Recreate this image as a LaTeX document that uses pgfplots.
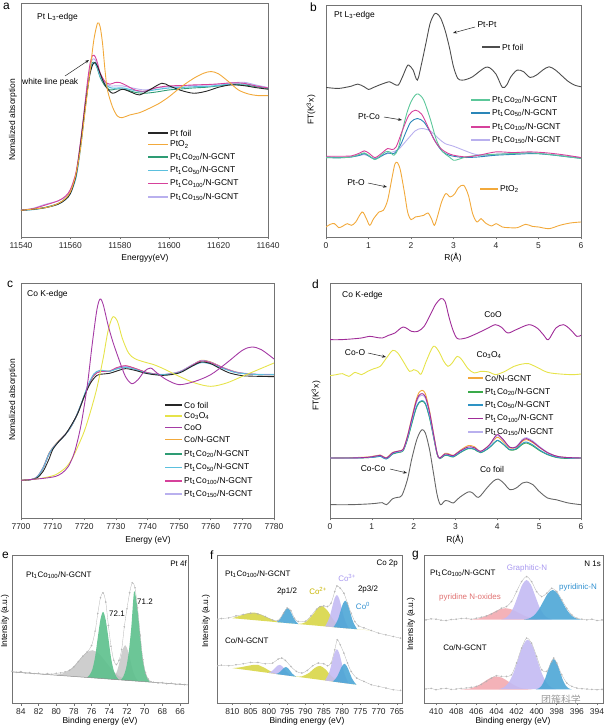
\documentclass[border=0pt]{standalone}
\usepackage{pgfplots}
\pgfplotsset{compat=1.18}
\usetikzlibrary{arrows.meta}
\usepackage{fontspec}
\setmainfont{Liberation Sans}
\newfontfamily\cjk{Noto Sans CJK SC}
\definecolor{cOr}{HTML}{F2A93B}
\definecolor{cGr}{HTML}{2E9C74}
\definecolor{cCy}{HTML}{5BC0DE}
\definecolor{cMa}{HTML}{D6419B}
\definecolor{cLa}{HTML}{B9B0EE}
\definecolor{bGr}{HTML}{5CC79A}
\definecolor{bBl}{HTML}{2A86B8}
\definecolor{bGy}{HTML}{4D4D4D}
\definecolor{cYe}{HTML}{E6E34A}
\definecolor{cPu}{HTML}{A53BA5}
\definecolor{dGr}{HTML}{3AAA4A}
\definecolor{dBl}{HTML}{2E93C4}
\definecolor{dPu}{HTML}{A02C98}
\definecolor{xGr}{HTML}{5CC08C}
\definecolor{xGy}{HTML}{BDBDBD}
\definecolor{xYe}{HTML}{D6D43C}
\definecolor{xBl}{HTML}{4DA6D6}
\definecolor{xLa}{HTML}{C3BAF3}
\definecolor{xPk}{HTML}{F2A5AC}
\definecolor{tYe}{HTML}{C8B400}
\definecolor{tLa}{HTML}{A898F0}
\definecolor{tBl}{HTML}{3090D0}
\definecolor{tPk}{HTML}{E07070}
\newcommand{\ft}{\fontsize{8.5}{10}\selectfont}
\newcommand{\fs}{\fontsize{8}{9.5}\selectfont}
\newcommand{\sub}[1]{\textsubscript{#1}}
\newcommand{\leg}[5]{\draw[#1,line width=1.1pt] (#2bp,-#4bp) -- (#3bp,-#4bp);
  \node[anchor=west,inner sep=0pt,font=\ft] at (#3bp+2bp,-#4bp) {#5};}
\pgfplotsset{myax/.style={scale only axis, anchor=north west,
  axis line style={black!55,line width=0.6pt}, ytick=\empty, xtick pos=lower,
  tick align=outside, major tick length=2.5pt, xtick style={black!55,line width=0.6pt},
  tick label style={font=\ft,text=black!85}, scaled x ticks=false,
  /pgf/number format/assume math mode=true, /pgf/number format/1000 sep={},
  every axis plot/.append style={line width=0.9pt}},
  raw/.style={black!30,line width=0.3pt,mark=o,mark size=0.7pt,mark options={black!30}}}
\begin{document}
\begin{tikzpicture}
\useasboundingbox (0,0) rectangle (609bp,-728bp);
% ---------------- a
\begin{axis}[myax, at={(21bp,-3bp)}, width=247bp, height=234bp,
  xmin=11540, xmax=11640, ymin=0, ymax=700, xtick={11540,11560,...,11640}]
\addplot[cGr,smooth] coordinates {(11540,80) (11545,83) (11550,89) (11555,100) (11558,115) (11560,135) (11562,178) (11563,218) (11564,272) (11565,332) (11566,398) (11567,458) (11568,503) (11569,522) (11570,520) (11571,502) (11572,478) (11574,452) (11576,440) (11578,442) (11580,443) (11583,440) (11586,433) (11590,430) (11595,434) (11600,440) (11605,443) (11610,446) (11615,448) (11620,452) (11625,456) (11630,455) (11635,450) (11640,444)};
\addplot[cCy,smooth,line width=1.1pt] coordinates {(11540,80) (11545,82) (11550,88) (11555,98) (11558,112) (11560,130) (11562,170) (11563,208) (11564,260) (11565,320) (11566,385) (11567,448) (11568,497) (11569,518) (11570,519) (11571,505) (11572,482) (11574,458) (11576,447) (11578,445) (11581,446) (11585,440) (11589,435) (11594,440) (11600,446) (11606,448) (11612,450) (11618,452) (11624,457) (11630,458) (11635,452) (11640,446)};
\addplot[cLa,smooth] coordinates {(11540,80) (11545,86) (11549,96) (11551,100) (11555,108) (11558,120) (11560,140) (11562,182) (11563,222) (11564,276) (11565,336) (11566,400) (11567,462) (11568,510) (11569,532) (11570,530) (11571,512) (11572,488) (11574,462) (11576,452) (11578,452) (11581,452) (11585,446) (11590,440) (11595,446) (11600,450) (11606,452) (11612,454) (11618,456) (11624,460) (11630,463) (11635,455) (11640,447)};
\addplot[cMa,smooth] coordinates {(11540,80) (11545,85) (11550,96) (11555,108) (11558,122) (11560,142) (11562,185) (11563,225) (11564,280) (11565,340) (11566,405) (11567,470) (11568,520) (11569,543) (11570,540) (11571,520) (11572,492) (11574,465) (11576,457) (11578,462) (11580,462) (11583,452) (11586,440) (11590,436) (11595,447) (11600,452) (11605,453) (11610,455) (11615,456) (11620,458) (11625,461) (11630,460) (11635,452) (11640,446)};
\addplot[black!85,smooth] coordinates {(11540,80) (11545,83) (11550,88) (11555,98) (11558,112) (11560,130) (11562,175) (11563,215) (11564,270) (11565,330) (11566,390) (11567,445) (11568,490) (11569,515) (11570,522) (11571,510) (11572,490) (11574,455) (11577,430) (11581,442) (11585,432) (11588,425) (11592,440) (11597,460) (11600,452) (11605,438) (11610,430) (11615,436) (11620,448) (11625,455) (11630,453) (11635,447) (11640,442)};
\addplot[cOr,smooth] coordinates {(11540,80) (11550,88) (11555,100) (11558,115) (11560,135) (11562,180) (11564,260) (11566,380) (11568,500) (11569.5,590) (11571,640) (11572,630) (11573,580) (11574,500) (11575,440) (11577,390) (11579,362) (11581,357) (11584,365) (11588,372) (11592,385) (11596,400) (11600,420) (11605,450) (11610,475) (11614,490) (11617,495) (11620,488) (11624,465) (11628,440) (11632,428) (11636,423) (11640,423)};
\end{axis}
% ---------------- b
\begin{axis}[myax, at={(326bp,-5bp)}, width=255bp, height=232bp,
  xmin=0, xmax=6, ymin=0, ymax=695, xtick={0,...,6}]
\addplot[bGy,smooth] coordinates {(0,448) (0.15,446) (0.3,445) (0.45,448) (0.6,452) (0.75,458) (0.9,450) (1.0,442) (1.1,447) (1.25,455) (1.4,462) (1.5,465) (1.6,458) (1.7,455) (1.8,480) (1.9,510) (1.95,515) (2.05,500) (2.15,470) (2.25,520) (2.35,580) (2.45,640) (2.55,668) (2.62,668) (2.7,655) (2.8,620) (2.9,570) (3.0,510) (3.1,475) (3.2,470) (3.3,472) (3.45,480) (3.6,495) (3.75,508) (3.85,507) (4.0,488) (4.15,448) (4.25,455) (4.35,480) (4.5,500) (4.65,495) (4.8,478) (4.95,485) (5.1,500) (5.25,510) (5.4,500) (5.55,483) (5.7,466) (5.85,455) (6.0,450)};
\addplot[cLa,smooth] coordinates {(0,238) (0.3,237) (0.6,240) (0.9,247) (1.0,243) (1.15,235) (1.3,244) (1.5,252) (1.7,262) (1.9,290) (2.1,318) (2.25,325) (2.45,318) (2.65,295) (2.8,280) (3.0,272) (3.2,262) (3.5,248) (3.8,244) (4.0,248) (4.4,250) (4.8,252) (5.2,248) (5.6,243) (6.0,238)};
\addplot[bBl,smooth] coordinates {(0,240) (0.3,238) (0.6,240) (0.8,245) (0.9,250) (1.0,243) (1.15,233) (1.3,242) (1.45,252) (1.6,250) (1.75,275) (1.9,320) (2.0,345) (2.15,355) (2.3,345) (2.45,315) (2.6,280) (2.75,255) (2.9,245) (3.1,240) (3.3,238) (3.6,240) (4.0,245) (4.5,248) (4.9,250) (5.3,246) (5.7,240) (6.0,236)};
\addplot[bGr,smooth] coordinates {(0,238) (0.3,237) (0.6,240) (0.8,248) (0.9,252) (1.0,245) (1.15,232) (1.25,240) (1.4,255) (1.5,255) (1.6,245) (1.7,265) (1.8,320) (1.9,370) (2.0,405) (2.1,425) (2.18,428) (2.3,410) (2.45,355) (2.6,290) (2.75,255) (2.9,240) (3.0,230) (3.1,232) (3.3,240) (3.6,245) (4.0,248) (4.4,250) (4.8,252) (5.2,248) (5.6,242) (6.0,235)};
\addplot[cMa,smooth] coordinates {(0,242) (0.3,242) (0.6,243) (0.8,252) (0.9,258) (1.0,252) (1.15,238) (1.3,250) (1.45,265) (1.55,262) (1.65,270) (1.8,320) (1.95,365) (2.1,380) (2.25,368) (2.4,330) (2.55,290) (2.7,265) (2.85,252) (3.0,245) (3.3,240) (3.6,245) (4.0,255) (4.4,253) (4.8,255) (5.2,252) (5.6,246) (6.0,238)};
\addplot[cOr,smooth] coordinates {(0,30) (0.1,38) (0.2,40) (0.3,28) (0.4,33) (0.5,40) (0.6,35) (0.7,45) (0.85,75) (0.95,55) (1.03,35) (1.12,55) (1.25,75) (1.35,80) (1.45,110) (1.55,175) (1.62,218) (1.68,223) (1.75,200) (1.85,130) (1.92,75) (2.0,52) (2.1,60) (2.2,62) (2.3,65) (2.4,72) (2.48,55) (2.55,35) (2.62,60) (2.72,105) (2.82,130) (2.92,120) (3.02,128) (3.12,148) (3.24,155) (3.35,125) (3.45,70) (3.55,45) (3.65,55) (3.75,42) (3.9,33) (4.0,40) (4.15,30) (4.3,28) (4.5,28) (4.7,38) (4.85,32) (5.0,30) (5.25,25) (5.5,35) (5.75,42) (6.0,45)};
\end{axis}
% ---------------- c
\begin{axis}[myax, at={(21bp,-283bp)}, width=253bp, height=235bp,
  xmin=7700, xmax=7780, ymin=0, ymax=705, xtick={7700,7710,...,7780}]
\addplot[cOr,smooth] coordinates {(7700,113) (7703,115) (7705,122) (7707,152) (7709,197) (7711,222) (7713,242) (7715,263) (7717,295) (7719,340) (7721,390) (7723,428) (7725,440) (7728,441) (7730,449) (7733,456) (7736,449) (7740,436) (7745,430) (7750,438) (7754,458) (7757,473) (7760,468) (7764,451) (7768,438) (7772,432) (7776,430) (7780,430)};
\addplot[cGr,smooth] coordinates {(7700,113) (7703,115) (7705,122) (7707,150) (7709,195) (7711,220) (7713,240) (7715,262) (7717,295) (7719,340) (7721,390) (7723,428) (7725,440) (7728,440) (7730,448) (7733,455) (7736,448) (7740,435) (7745,430) (7750,438) (7754,458) (7757,472) (7760,467) (7764,450) (7768,437) (7772,432) (7776,430) (7780,430)};
\addplot[cLa,smooth] coordinates {(7700,113) (7703,115) (7705,123) (7707,152) (7709,196) (7711,221) (7713,241) (7715,263) (7717,296) (7719,341) (7721,392) (7723,430) (7725,441) (7728,441) (7730,449) (7733,455) (7736,448) (7740,436) (7745,431) (7750,439) (7754,459) (7757,472) (7760,467) (7764,451) (7768,438) (7772,433) (7776,431) (7780,431)};
\addplot[cMa,smooth] coordinates {(7700,113) (7703,115) (7705,122) (7707,150) (7709,195) (7711,220) (7713,240) (7715,262) (7717,295) (7719,340) (7721,390) (7723,428) (7725,439) (7728,440) (7730,450) (7733,457) (7736,449) (7740,436) (7745,430) (7750,437) (7754,457) (7757,471) (7760,466) (7764,450) (7768,437) (7772,432) (7776,430) (7780,430)};
\addplot[cCy,smooth] coordinates {(7700,113) (7703,115) (7705,122) (7707,150) (7709,195) (7711,220) (7713,240) (7715,262) (7717,295) (7719,342) (7721,394) (7723,432) (7725,443) (7728,440) (7730,446) (7733,452) (7736,446) (7740,434) (7745,430) (7750,436) (7754,455) (7757,466) (7760,462) (7764,448) (7768,436) (7772,432) (7776,430) (7780,430)};
\addplot[black!85,smooth] coordinates {(7700,113) (7703,115) (7705,120) (7707,140) (7709,180) (7710,205) (7712,230) (7714,250) (7716,280) (7718,315) (7720,365) (7722,405) (7724,428) (7726,432) (7728,434) (7730,440) (7733,448) (7736,443) (7740,433) (7745,428) (7750,435) (7754,455) (7757,468) (7760,463) (7763,448) (7766,435) (7770,427) (7775,425) (7780,424)};
\addplot[cYe,smooth] coordinates {(7700,113) (7705,117) (7708,122) (7711,130) (7714,150) (7716,175) (7718,215) (7720,260) (7722,320) (7724,390) (7726,480) (7727.5,560) (7729,603) (7730.5,590) (7732,540) (7734,495) (7736,478) (7739,468) (7742,460) (7745,448) (7750,425) (7755,405) (7760,395) (7765,405) (7770,425) (7775,445) (7780,465)};
\addplot[cPu,smooth] coordinates {(7700,113) (7705,117) (7708,120) (7711,125) (7713,135) (7715,155) (7717,200) (7719,280) (7721,400) (7722.5,520) (7724,625) (7725,657) (7726,640) (7727.5,580) (7729,530) (7731,475) (7733,425) (7735,403) (7737,415) (7739,440) (7741,450) (7743,435) (7746,415) (7750,400) (7755,410) (7760,430) (7765,465) (7770,503) (7773,513) (7776,505) (7780,477)};
\end{axis}
% ---------------- d
\begin{axis}[myax, at={(330bp,-283bp)}, width=251bp, height=235bp,
  xmin=0, xmax=6, ymin=0, ymax=705, xtick={0,...,6}]
\addplot[dPu,smooth] coordinates {(0,535) (0.25,535) (0.5,537) (0.75,540) (0.95,545) (1.1,542) (1.25,540) (1.4,548) (1.55,555) (1.75,573) (1.95,560) (2.1,560) (2.25,575) (2.4,610) (2.52,640) (2.65,658) (2.75,650) (2.85,600) (2.95,560) (3.05,538) (3.25,540) (3.5,553) (3.75,568) (3.95,580) (4.1,572) (4.25,555) (4.45,565) (4.75,580) (4.95,570) (5.1,550) (5.22,535) (5.4,570) (5.58,580) (5.75,565) (5.9,545) (6.0,548)};
\addplot[cYe,smooth] coordinates {(0,427) (0.15,430) (0.3,433) (0.45,425) (0.6,437) (0.75,430) (0.9,440) (1.05,448) (1.2,455) (1.35,480) (1.5,503) (1.62,495) (1.75,470) (1.9,440) (2.0,445) (2.1,440) (2.18,432) (2.3,470) (2.47,515) (2.6,500) (2.72,470) (2.82,455) (2.92,465) (3.04,485) (3.15,475) (3.3,448) (3.45,435) (3.6,440) (3.8,438) (3.95,430) (4.15,438) (4.4,455) (4.6,462) (4.75,463) (4.95,452) (5.2,437) (5.5,432) (5.8,430) (6.0,432)};
\addplot[cOr,smooth] coordinates {(0,180) (0.5,181) (0.9,183) (1.1,187) (1.2,189) (1.35,181) (1.5,197) (1.65,201) (1.75,207) (1.85,245) (1.95,298) (2.05,350) (2.12,375) (2.2,383) (2.28,373) (2.38,322) (2.48,250) (2.56,195) (2.62,180) (2.75,194) (2.85,192) (2.95,188) (3.1,202) (3.3,217) (3.45,214) (3.6,200) (3.8,218) (3.95,238) (4.02,242) (4.15,228) (4.3,210) (4.45,212) (4.6,230) (4.7,235) (4.85,226) (5.0,212) (5.2,196) (5.4,186) (5.6,182) (6.0,180)};
\addplot[dGr,smooth] coordinates {(0,180) (0.5,180) (0.9,181) (1.1,184) (1.2,187) (1.35,178) (1.5,192) (1.65,197) (1.75,202) (1.85,235) (1.95,280) (2.05,325) (2.12,344) (2.2,350) (2.28,342) (2.38,300) (2.48,240) (2.56,192) (2.62,178) (2.75,188) (2.85,186) (2.95,183) (3.1,195) (3.3,208) (3.45,206) (3.6,196) (3.8,210) (3.95,228) (4.02,232) (4.15,220) (4.3,204) (4.45,206) (4.6,221) (4.7,225) (4.85,216) (5.0,203) (5.2,190) (5.4,182) (5.6,179) (6.0,180)};
\addplot[dBl,smooth] coordinates {(0,180) (0.5,180) (0.9,181) (1.1,183) (1.2,185) (1.35,177) (1.5,193) (1.65,198) (1.75,203) (1.85,237) (1.95,283) (2.05,328) (2.12,346) (2.2,352) (2.28,344) (2.38,302) (2.48,241) (2.56,193) (2.62,179) (2.75,189) (2.85,187) (2.95,184) (3.1,196) (3.3,209) (3.45,207) (3.6,197) (3.8,211) (3.95,229) (4.02,233) (4.15,221) (4.3,205) (4.45,208) (4.6,224) (4.7,228) (4.85,219) (5.0,205) (5.2,191) (5.4,183) (5.6,180) (6.0,180)};
\addplot[cLa,smooth] coordinates {(0,180) (0.5,180) (0.9,182) (1.1,186) (1.2,188) (1.35,180) (1.5,196) (1.65,200) (1.75,205) (1.85,242) (1.95,292) (2.05,340) (2.12,362) (2.2,368) (2.28,360) (2.38,314) (2.48,246) (2.56,194) (2.62,180) (2.75,192) (2.85,190) (2.95,187) (3.1,200) (3.3,213) (3.45,211) (3.6,200) (3.8,217) (3.95,242) (4.02,247) (4.15,232) (4.3,212) (4.45,214) (4.6,236) (4.7,241) (4.85,231) (5.0,215) (5.2,197) (5.4,186) (5.6,182) (6.0,180)};
\addplot[dPu,smooth] coordinates {(0,180) (0.5,180) (0.9,182) (1.1,186) (1.2,188) (1.35,180) (1.5,196) (1.65,201) (1.75,206) (1.85,244) (1.95,295) (2.05,345) (2.12,367) (2.2,373) (2.28,364) (2.38,317) (2.48,248) (2.56,194) (2.62,180) (2.75,192) (2.85,190) (2.95,187) (3.1,200) (3.3,213) (3.45,211) (3.6,200) (3.8,218) (3.95,245) (4.02,250) (4.15,234) (4.3,212) (4.45,213) (4.6,233) (4.7,238) (4.85,228) (5.0,213) (5.2,196) (5.4,186) (5.6,182) (6.0,180)};
\addplot[black!60,smooth] coordinates {(0,40) (0.5,40) (0.9,42) (1.1,44) (1.25,46) (1.35,40) (1.5,58) (1.62,62) (1.72,68) (1.85,115) (1.95,175) (2.05,225) (2.12,250) (2.2,265) (2.28,255) (2.38,205) (2.48,130) (2.56,70) (2.64,40) (2.75,52) (2.85,50) (2.95,45) (3.1,62) (3.3,78) (3.4,76) (3.55,62) (3.75,90) (3.9,110) (4.02,117) (4.15,105) (4.3,85) (4.45,90) (4.6,105) (4.7,108) (4.85,100) (5.0,80) (5.2,60) (5.4,55) (5.7,45) (6.0,40)};
\end{axis}
% ---------------- e
\begin{axis}[myax, at={(12bp,-555bp)}, width=176bp, height=148bp, x dir=reverse,
  xmin=65.1, xmax=85, ymin=0, ymax=443, xtick={66,68,...,84}]
\addplot[draw=none,fill=xGy,fill opacity=0.75,smooth] coordinates {(80.4,84.1) (79.65,86.4) (78.9,92) (78.15,106.5) (77.4,129) (76.65,150) (75.9,158) (75.15,147) (74.4,123) (73.65,98) (72.9,80) (72.15,71.6) (71.4,66.4)};
\addplot[draw=none,fill=xGy,fill opacity=0.75,smooth] coordinates {(73.7,71.0) (73.4,80) (73.1,97) (72.8,127) (72.5,159) (72.2,173) (71.9,157) (71.6,125) (71.3,93) (71.0,75) (70.7,65.0)};
\addplot[draw=none,fill=xGr,fill opacity=0.9,smooth] coordinates {(76.5,76.5) (76.2,85) (75.9,102) (75.6,139) (75.3,196) (75.0,250) (74.7,273) (74.4,248) (74.1,194) (73.8,135) (73.5,98) (73.2,79) (72.9,69.3)};
\addplot[draw=none,fill=xGr,fill opacity=0.9,smooth] coordinates {(72.7,69.1) (72.4,80) (72.1,104) (71.8,152) (71.5,230) (71.2,333) (70.9,300.5) (70.6,228) (70.3,149) (70.0,100) (69.7,75) (69.4,62.5)};
\addplot[black!45,line width=0.5pt] coordinates {(85,93) (65.1,54.2)};
\addplot[raw,smooth] coordinates {(85,95) (84.5,92) (84,94) (83.5,90) (83,91) (82.5,88) (82,89) (81.5,86) (81,88) (80.5,86) (80,89) (79.5,90) (79,93) (78.5,98) (78,108) (77.5,124) (77,140) (76.5,153) (76,172) (75.6,215) (75.3,268) (75,315) (74.7,330) (74.4,302) (74.1,232) (73.8,170) (73.5,128) (73.2,115) (72.9,128) (72.6,160) (72.3,228) (72,282) (71.7,330) (71.4,360) (71.1,345) (70.8,285) (70.5,203) (70.2,130) (69.9,90) (69.6,72) (69.3,64) (69,62) (68.5,60) (68,61) (67.5,58) (67,59) (66.5,56) (66,57) (65.5,55)};
\end{axis}
% ---------------- f
\begin{axis}[myax, at={(217bp,-555bp)}, width=185bp, height=148bp, x dir=reverse,
  xmin=763.6, xmax=814.2, ymin=0, ymax=445, xtick={765,770,...,815}]
\addplot[draw=none,fill=xYe,fill opacity=0.85,smooth] coordinates {(810,255) (808,262) (806,269) (804,272) (802,265) (800,255) (798,246) (796,241.4) (792,238) (790,243) (788,265.5) (786.5,287) (785.5,292) (784,278) (782.5,252) (781,234) (779,225.6) (775,221) (772,218)};
\addplot[draw=none,fill=xBl,fill opacity=0.9,smooth] coordinates {(797.9,243.2) (797.3,248.6) (796.7,256.4) (796.1,269) (795.5,280.4) (794.9,285.3) (794.3,279.3) (793.7,266.6) (793.1,253) (792.5,244) (791.9,237.3)};
\addplot[draw=none,fill=xLa,fill opacity=0.9,smooth] coordinates {(784.65,230.4) (784.0,243) (783.35,260.5) (782.7,288) (782.05,314) (781.4,325) (780.75,312.5) (780.1,285.7) (779.45,256.7) (778.8,237.8) (778.15,224)};
\addplot[draw=none,fill=xBl,fill opacity=0.9,smooth] coordinates {(782.35,228.1) (781.7,238.7) (781.05,253.4) (780.4,276.8) (779.75,298.5) (779.1,307.9) (778.45,297.2) (777.8,274.2) (777.15,249.5) (776.5,233.5) (775.85,221.7)};
\addplot[draw=none,fill=xYe,fill opacity=0.85,smooth] coordinates {(810,105) (808,107) (806,111.3) (804,115) (803,114.7) (801,104.5) (799,92.2) (797,86.4) (793,80.3) (791,80.2) (789,90.6) (787.5,105.2) (786,111.7) (784.5,100.8) (783,81.8) (781,65.6) (779,59.7) (776,55)};
\addplot[draw=none,fill=xLa,fill opacity=0.9,smooth] coordinates {(800.25,90.7) (799.6,93.6) (798.95,98.1) (798.3,105.5) (797.65,112.4) (797.0,114.9) (796.35,110.4) (795.7,101.7) (795.05,92.3) (794.4,86) (793.75,81.1)};
\addplot[draw=none,fill=xBl,fill opacity=0.9,smooth] coordinates {(798.05,87.2) (797.5,89.8) (796.95,93.6) (796.4,100.1) (795.85,106) (795.3,108.2) (794.75,104.4) (794.2,96.9) (793.65,88.8) (793.1,83.4) (792.55,79.2)};
\addplot[draw=none,fill=xLa,fill opacity=0.9,smooth] coordinates {(784.65,67.7) (784.0,80.2) (783.35,97.5) (782.7,125.2) (782.05,150.9) (781.4,161.9) (780.75,149) (780.1,121.4) (779.45,91.8) (778.8,72.5) (778.15,58.2)};
\addplot[draw=none,fill=xBl,fill opacity=0.9,smooth] coordinates {(782.55,64.6) (781.9,71.4) (781.25,81.3) (780.6,97.1) (779.95,111.8) (779.3,117.9) (778.65,109.9) (778.0,93.4) (777.35,75.6) (776.7,63.8) (776.05,55.1)};
\addplot[raw,smooth] coordinates {(814,252) (813,254) (811,256) (809,262) (807,266) (805,270) (803,268) (801,260) (799,250) (797.5,248) (796,270) (795,286) (794,278) (793,255) (792,245) (790,246) (788.5,262) (787,282) (786,290) (785,292) (784,290) (783,300) (782,335) (781.4,352) (780.5,345) (779.5,330) (778.5,300) (777.5,270) (776.5,245) (775.5,232) (774,226) (772,218) (770,210) (768,205) (766,200) (764,195)};
\addplot[raw,smooth] coordinates {(814,112) (813,114) (811,112) (809,115) (807,118) (805,122) (803,122) (801,118) (799,120) (797.5,132) (796.5,135) (795.5,128) (794,110) (792.5,95) (791,90) (789.5,98) (788,112) (786.5,120) (785,118) (784,112) (783,120) (782,160) (781.3,190) (780.5,175) (779.5,150) (778.5,120) (777.5,95) (776,75) (774,65) (772,55) (770,50) (768,45) (766,40) (764,38)};
\end{axis}
% ---------------- g
\begin{axis}[myax, at={(424bp,-555bp)}, width=179bp, height=148bp, x dir=reverse,
  xmin=393.4, xmax=411.2, ymin=0, ymax=445, xtick={394,396,...,410}]
\addplot[draw=none,fill=xPk,fill opacity=0.85,smooth] coordinates {(407.0,250.4) (406.35,251.5) (405.7,254.7) (405.05,261.4) (404.4,271.2) (403.75,280.9) (403.1,285) (402.45,280.9) (401.8,271.2) (401.15,261.4) (400.5,254.7) (399.85,251.5) (399.2,250.4)};
\addplot[draw=none,fill=xLa,fill opacity=0.9,smooth] coordinates {(403.55,251.3) (403.125,255.3) (402.7,266.2) (402.275,289) (401.85,322.8) (401.425,355.9) (401.0,370) (400.575,355.9) (400.15,322.8) (399.725,289) (399.3,266.2) (398.875,255.3) (398.45,251.3)};
\addplot[draw=none,fill=xBl,fill opacity=0.9,smooth] coordinates {(401.25,251) (400.775,254) (400.3,262.2) (399.825,279.2) (399.35,304.6) (398.875,329.4) (398.4,340) (397.925,329.4) (397.45,304.6) (396.975,279.2) (396.5,262.2) (396.025,254) (395.55,251)};
\addplot[draw=none,fill=xPk,fill opacity=0.85,smooth] coordinates {(407.6,40.4) (407.0,41.8) (406.4,45.4) (405.8,53) (405.2,64.3) (404.6,75.3) (404.0,80) (403.4,75.3) (402.8,64.3) (402.2,53) (401.6,45.4) (401.0,41.8) (400.4,40.4)};
\addplot[draw=none,fill=xLa,fill opacity=0.9,smooth] coordinates {(403.75,41.7) (403.275,46.6) (402.8,60.3) (402.325,88.7) (401.85,131) (401.375,172.4) (400.9,190) (400.425,172.4) (399.95,131) (399.475,88.7) (399.0,60.3) (398.525,46.6) (398.05,41.7)};
\addplot[draw=none,fill=xBl,fill opacity=0.9,smooth] coordinates {(400.1,41) (399.8,44) (399.5,52.4) (399.2,69.9) (398.9,95.8) (398.6,121.2) (398.3,132) (398.0,121.2) (397.7,95.8) (397.4,69.9) (397.1,52.4) (396.8,44) (396.5,41)};
\addplot[raw,smooth] coordinates {(411,250) (410.5,253) (410,252) (409.5,249) (409,248) (408.5,251) (408,252) (407.5,254) (407,255) (406.5,252) (406,255) (405.5,258) (405,262) (404.5,268) (404,275) (403.5,285) (403,290) (402.5,305) (402,335) (401.5,365) (401,380) (400.5,365) (400,335) (399.5,320) (399,330) (398.5,345) (398,335) (397.5,310) (397,285) (396.5,265) (396,255) (395.5,252) (395,250) (394.5,252) (394,248) (393.5,250)};
\addplot[raw,smooth] coordinates {(411,42) (410.5,44) (410,40) (409.5,43) (409,44) (408.5,41) (408,42) (407.5,44) (407,45) (406.5,47) (406,50) (405.5,56) (405,65) (404.5,75) (404,82) (403.5,80) (403,80) (402.5,85) (402,120) (401.5,165) (401,195) (400.5,180) (400,140) (399.5,100) (399,95) (398.5,125) (398.3,135) (398,120) (397.5,85) (397,60) (396.5,50) (396,45) (395.5,43) (395,42) (394.5,41) (394,40) (393.5,41)};
\end{axis}
% ---------------- panel letters
\begin{scope}[every node/.style={anchor=north west,inner sep=0pt,font=\fontsize{12}{12}\selectfont}]
\node at (3bp,-2.5bp) {a};
\node at (310bp,-2.5bp) {b};
\node at (7bp,-281bp) {c};
\node at (312bp,-280bp) {d};
\node at (2bp,-552bp) {e};
\node at (210bp,-551bp) {f};
\node at (412bp,-551bp) {g};
\end{scope}
% ---------------- axis labels
\begin{scope}[every node/.style={inner sep=0pt,font=\ft}]
\node at (145bp,-258bp) {Energyy(eV)};
\node at (453bp,-258bp) {R(Å)};
\node at (148bp,-540bp) {Energy (eV)};
\node at (455bp,-540bp) {R(Å)};
\node at (100bp,-721bp) {Binding energy (eV)};
\node at (307bp,-721bp) {Binding energy (eV)};
\node at (513bp,-721bp) {Binding energy (eV)};
\node[rotate=90] at (13bp,-120bp) {Nomalized absorption};
\node[rotate=90] at (13bp,-400bp) {Nomalized absorption};
\node[rotate=90] at (311bp,-110bp) {FT(K\textsuperscript{3}x)};
\node[rotate=90] at (316bp,-396bp) {FT(K\textsuperscript{3}x)};
\node[rotate=90] at (5bp,-621bp) {Intensity (a.u.)};
\node[rotate=90] at (206bp,-621bp) {Intensity (a.u.)};
\node[rotate=90] at (411bp,-624bp) {Intensity (a.u.)};
\end{scope}
% ---------------- legends a
\leg{black!85}{148}{168}{133}{Pt foil}
\leg{cOr}{148}{168}{144.5}{PtO\sub{2}}
\leg{cGr}{148}{168}{157}{Pt\sub{1}Co\sub{20}/N-GCNT}
\leg{cCy}{148}{168}{170.5}{Pt\sub{1}Co\sub{50}/N-GCNT}
\leg{cMa}{148}{168}{183.5}{Pt\sub{1}Co\sub{100}/N-GCNT}
\leg{cLa}{148}{168}{197}{Pt\sub{1}Co\sub{150}/N-GCNT}
% legends b
\leg{bGy}{482}{500}{47}{Pt foil}
\leg{bGr}{471}{490}{100}{Pt\sub{1}Co\sub{20}/N-GCNT}
\leg{bBl}{471}{490}{113}{Pt\sub{1}Co\sub{50}/N-GCNT}
\leg{cMa}{471}{490}{127}{Pt\sub{1}Co\sub{100}/N-GCNT}
\leg{cLa}{471}{490}{140}{Pt\sub{1}Co\sub{150}/N-GCNT}
\leg{cOr}{480}{498}{189}{PtO\sub{2}}
% legends c
\leg{black!85}{165}{182}{405}{Co foil}
\leg{cYe}{165}{182}{416}{Co\sub{3}O\sub{4}}
\leg{cPu}{165}{182}{427.5}{CoO}
\leg{cOr}{165}{182}{439.5}{Co/N-GCNT}
\leg{cGr}{165}{182}{454}{Pt\sub{1}Co\sub{20}/N-GCNT}
\leg{cCy}{165}{182}{467.5}{Pt\sub{1}Co\sub{50}/N-GCNT}
\leg{cMa}{165}{182}{481}{Pt\sub{1}Co\sub{100}/N-GCNT}
\leg{cLa}{165}{182}{494}{Pt\sub{1}Co\sub{150}/N-GCNT}
% legends d
\leg{cOr}{468}{483}{378}{Co/N-GCNT}
\leg{dGr}{468}{483}{392}{Pt\sub{1}Co\sub{20}/N-GCNT}
\leg{dBl}{468}{483}{405}{Pt\sub{1}Co\sub{50}/N-GCNT}
\leg{dPu}{468}{483}{418.5}{Pt\sub{1}Co\sub{100}/N-GCNT}
\leg{cLa}{468}{483}{432}{Pt\sub{1}Co\sub{150}/N-GCNT}
% ---------------- annotations
\begin{scope}[every node/.style={inner sep=0pt,font=\ft}]
\node[anchor=west] at (37bp,-17bp) {Pt L\sub{3}-edge};
\node[anchor=west] at (22bp,-82bp) {white line peak};
\node[anchor=west] at (334bp,-15bp) {Pt L\sub{3}-edge};
\node at (487bp,-25bp) {Pt-Pt};
\node at (369bp,-117bp) {Pt-Co};
\node at (356bp,-183bp) {Pt-O};
\node[anchor=west] at (27bp,-294bp) {Co K-edge};
\node[anchor=west] at (342bp,-295bp) {Co K-edge};
\node at (493bp,-315bp) {CoO};
\node at (489bp,-355bp) {Co\sub{3}O\sub{4}};
\node at (355bp,-353bp) {Co-O};
\node at (373bp,-469bp) {Co-Co};
\node at (492bp,-469bp) {Co foil};
\end{scope}
\begin{scope}[-{Stealth[length=4pt,width=3pt]},line width=0.5pt,black!85]
\draw (65bp,-76bp) -- (89bp,-60bp);
\draw (475bp,-27bp) -- (453bp,-33bp);
\draw (384bp,-117bp) -- (402bp,-120bp);
\draw (368bp,-183bp) -- (387bp,-187bp);
\draw (368bp,-353bp) -- (386bp,-357bp);
\draw (390bp,-469bp) -- (407bp,-473bp);
\end{scope}
\begin{scope}[every node/.style={inner sep=0pt,font=\fs}]
\node[anchor=west] at (26bp,-575bp) {Pt\sub{1}Co\sub{100}/N-GCNT};
\node[anchor=east] at (187bp,-564bp) {Pt 4f};
\node at (117bp,-614bp) {72.1};
\node at (145bp,-602bp) {71.2};
\node[anchor=west] at (225bp,-574bp) {Pt\sub{1}Co\sub{100}/N-GCNT};
\node[anchor=east] at (398bp,-564bp) {Co 2p};
\node at (287bp,-591bp) {2p1/2};
\node[text=tYe] at (318bp,-591bp) {Co\textsuperscript{2+}};
\node[text=tLa] at (347bp,-578bp) {Co\textsuperscript{3+}};
\node at (368bp,-589bp) {2p3/2};
\node[text=tBl] at (363bp,-606bp) {Co\textsuperscript{0}};
\node[anchor=west] at (225bp,-641bp) {Co/N-GCNT};
\node[anchor=west] at (430bp,-573bp) {Pt\sub{1}Co\sub{100}/N-GCNT};
\node[anchor=east] at (601bp,-564bp) {N 1s};
\node[text=tLa] at (527bp,-568bp) {Graphitic-N};
\node[text=tBl] at (578bp,-587bp) {pyridinic-N};
\node[text=tPk] at (470bp,-597bp) {pyridine N-oxides};
\node at (465bp,-648bp) {Co/N-GCNT};
\node[text=black!40,font=\cjk\fontsize{10}{10}\selectfont] at (561bp,-700bp) {团簇科学};
\end{scope}
\end{tikzpicture}
\end{document}
